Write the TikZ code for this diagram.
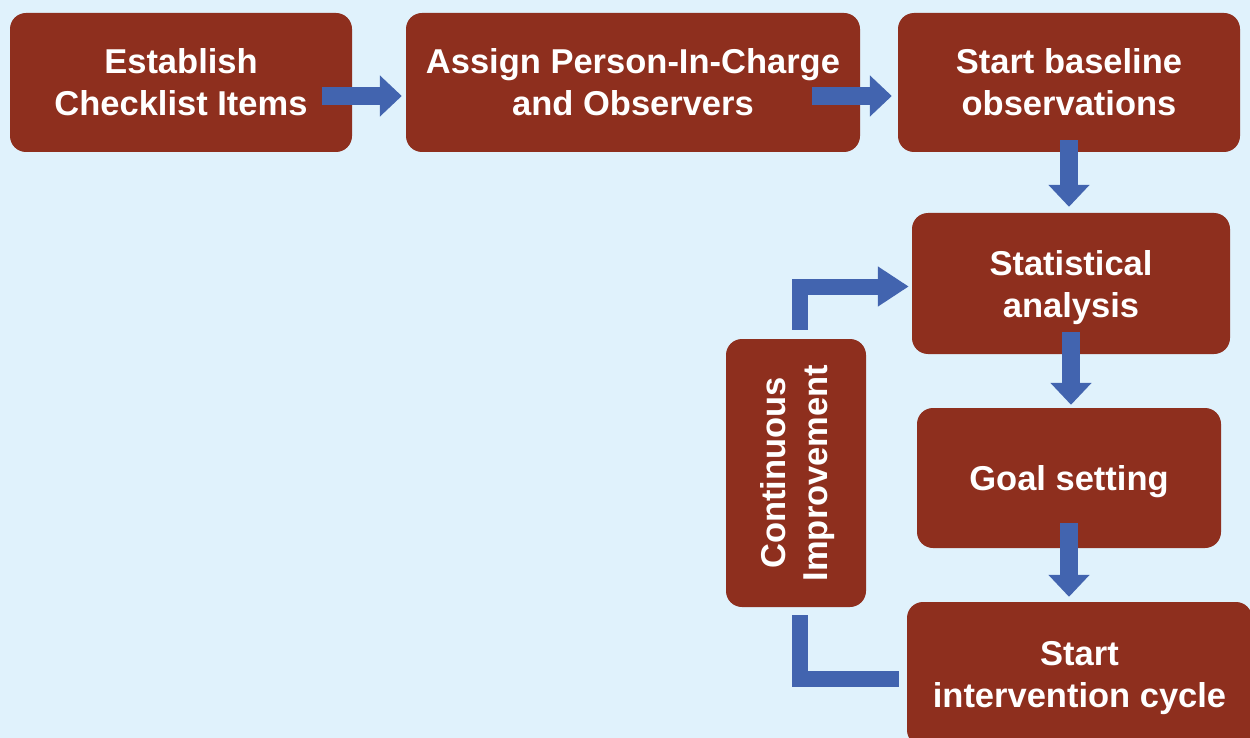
\documentclass[tikz,border=0pt]{standalone}
\usepackage{fontspec}
\setmainfont{Liberation Sans}
\usetikzlibrary{arrows.meta,calc}
\definecolor{bgblue}{HTML}{E0F2FC}
\definecolor{boxred}{HTML}{8E2F1E}
\definecolor{arrblue}{HTML}{4264AF}
\tikzset{
  stepbox/.style={fill=boxred, draw=none, rounded corners=16pt, inner sep=0pt,
    text=white, align=center, font=\fontsize{34.5}{42}\selectfont\bfseries,
    text depth=-1pt},
  bigarrow/.style={draw=arrblue, line width=18pt, line cap=butt,
    -{Triangle[length=22pt,width=40pt]}},
  elbowarrow/.style={draw=arrblue, line width=16pt, line cap=butt, line join=miter,
    -{Triangle[length=31pt,width=38pt]}},
  elbowline/.style={draw=arrblue, line width=16pt, line cap=butt, line join=miter},
  rotlabel/.style={text=white, align=center, rotate=90, inner sep=0pt,
    font=\fontsize{34.5}{42}\selectfont\bfseries, text depth=-1pt}
}
\begin{document}
\begin{tikzpicture}[x=1pt,y=-1pt]
\useasboundingbox (0,0) rectangle (1250,738);
\fill[bgblue] (0,0) rectangle (1250,738);
\begin{scope}
\clip (0,0) rectangle (1250,738);
\node[stepbox, text depth=-5pt, minimum width=342pt, minimum height=139pt] (b1) at (181,82.5) {Establish\\Checklist Items};
\node[stepbox, text depth=-5pt, minimum width=454pt, minimum height=139pt] (b2) at (633,82.5) {Assign Person-In-Charge\\and Observers};
\node[stepbox, text depth=-5pt, minimum width=342pt, minimum height=139pt] (b3) at (1069,82.5) {Start baseline\\observations};
\node[stepbox, minimum width=318pt, minimum height=141pt] (b4) at (1071,283.5) {Statistical\\analysis};
\node[stepbox, minimum width=304pt, minimum height=140pt] (b5) at (1069,478) {Goal setting};
\node[stepbox, minimum width=345pt, minimum height=144pt] (b6) at (1079.5,674) {Start\\intervention cycle};
\node[fill=boxred, rounded corners=16pt, inner sep=0pt, minimum width=140pt, minimum height=268pt] (ci) at (796,473) {};
\node[rotlabel] (cil) at ([xshift=-2pt]ci.center) {Continuous\\Improvement};

\draw[bigarrow, shorten <=-30pt, shorten >=4pt] ([yshift=-13.5pt]b1.east) -- ([yshift=-13.5pt]b2.west);
\draw[bigarrow, shorten <=-48pt, shorten >=6pt] ([yshift=-13.5pt]b2.east) -- ([yshift=-13.5pt]b3.west);
\draw[bigarrow, shorten <=-12pt, shorten >=6pt] (b3.south) -- (b3.south |- b4.north);
\draw[bigarrow, shorten <=-22pt, shorten >=3pt] (b4.south) -- (b4.south |- b5.north);
\draw[bigarrow, shorten <=-25pt, shorten >=5pt] (b5.south) -- (b5.south |- b6.north);
\draw[elbowarrow] ([xshift=4pt,yshift=9pt]ci.north) |- ([xshift=-3pt,yshift=-3pt]b4.west);
\draw[elbowline] ([xshift=4pt,yshift=-8pt]ci.south) |- ([xshift=-8pt,yshift=-4.5pt]b6.west);
\end{scope}
\end{tikzpicture}
\end{document}
